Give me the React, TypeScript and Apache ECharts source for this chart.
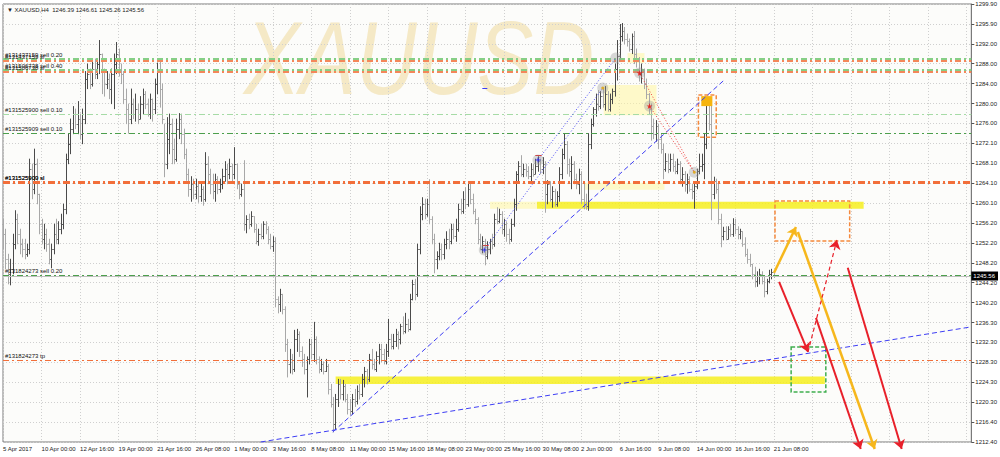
import React, { useEffect, useRef } from "react";
import * as echarts from "echarts";

// ---- tick labels ----
const xTickLabels = ["5 Apr 2017", "10 Apr 00:00", "12 Apr 16:00", "19 Apr 00:00", "21 Apr 16:00", "26 Apr 08:00", "1 May 00:00", "3 May 16:00", "8 May 08:00", "11 May 00:00", "15 May 16:00", "18 May 08:00", "23 May 00:00", "25 May 16:00", "30 May 08:00", "2 Jun 00:00", "6 Jun 16:00", "9 Jun 08:00", "14 Jun 00:00", "16 Jun 16:00", "21 Jun 08:00"];
const yTickLabels = ["1212.40", "1216.40", "1220.30", "1224.30", "1228.30", "1232.30", "1236.30", "1240.20", "1244.20", "1248.20", "1252.20", "1256.20", "1260.10", "1264.10", "1268.10", "1272.10", "1276.00", "1280.00", "1284.00", "1288.00", "1292.00", "1295.90", "1299.90"];

// ---- H4 bars (index 0 .. 320) ----
const firstOpen = 1256;
const closes = [
  1254, 1249, 1246, 1247, 1252, 1257, 1254, 1252, 1251, 1250,
  1251, 1267, 1263, 1268, 1262, 1256, 1253, 1254, 1252, 1249,
  1251, 1254, 1253, 1255, 1256, 1259, 1269, 1272, 1275, 1278,
  1276, 1277, 1274, 1277, 1285, 1286, 1284, 1287, 1286, 1288,
  1290, 1287, 1284, 1285, 1283, 1286, 1288, 1290, 1287, 1286,
  1281, 1279, 1277, 1280, 1278, 1279, 1277, 1280, 1282, 1280,
  1278, 1281, 1279, 1284, 1287, 1283, 1277, 1268, 1273, 1276,
  1271, 1269, 1275, 1277, 1274, 1270, 1266, 1263, 1264, 1262,
  1263.5, 1261.5, 1263, 1261, 1268, 1266, 1264, 1262.5, 1265, 1263,
  1264, 1265.5, 1267, 1266, 1267.5, 1266, 1268, 1264, 1262, 1263,
  1256, 1257, 1256, 1257.5, 1255, 1252.5, 1254, 1253.5, 1256, 1255,
  1253, 1251.5, 1252.5, 1241, 1240, 1242, 1239, 1232, 1228, 1229,
  1227, 1233, 1234, 1230.5, 1229, 1227, 1229, 1232, 1230, 1233,
  1229, 1227, 1228, 1226.5, 1227.5, 1223, 1220, 1216, 1221, 1224,
  1222, 1223.5, 1221, 1219, 1218.5, 1221, 1220.5, 1222.5, 1222, 1225,
  1226.5, 1225, 1229, 1228, 1227, 1229.5, 1231, 1230, 1228.5, 1230.5,
  1233, 1231.5, 1232.5, 1234, 1233, 1235.5, 1234.5, 1236, 1235, 1241,
  1244, 1242, 1251, 1258, 1260, 1258, 1260, 1257, 1253, 1249,
  1249.5, 1251, 1250, 1252, 1253, 1252.5, 1255, 1253.5, 1255, 1259,
  1258.5, 1261, 1260, 1263, 1261, 1258.5, 1257, 1253, 1251, 1252.5,
  1249.5, 1251, 1252.5, 1252, 1257, 1256.5, 1258, 1255, 1256, 1254,
  1253, 1256, 1260, 1266, 1267.5, 1266, 1267, 1266.5, 1265.5, 1267,
  1266, 1267.5, 1268.5, 1267, 1268, 1262, 1264, 1261, 1262.5, 1260,
  1261.5, 1266, 1270, 1272, 1268, 1266.5, 1268, 1265, 1264, 1266,
  1261, 1260, 1259.5, 1272, 1276, 1279, 1280, 1279.5, 1281.5, 1280,
  1282, 1279, 1281, 1282.5, 1287, 1289.5, 1293.5, 1294.5, 1293, 1292.5,
  1291, 1293.5, 1290, 1288.5, 1286, 1287, 1284, 1282, 1279, 1275.5,
  1274, 1275.5, 1273, 1271, 1267, 1268.5, 1267, 1269, 1267.5, 1266.5,
  1268, 1265, 1266, 1264, 1265, 1263, 1262.5, 1263.5, 1266.5, 1267.5,
  1268, 1272, 1280.5, 1276, 1262, 1264.5, 1263, 1257, 1253.5, 1254.5,
  1253, 1255, 1254, 1256, 1255, 1254, 1254.5, 1252, 1250, 1249,
  1248, 1246, 1244.5, 1245.5, 1246, 1244.5, 1242.5, 1244.5, 1246, 1246.39,
  1245.56
];
const highs = [
  1257, 1255, 1250, 1249, 1254, 1258.7, 1258, 1255, 1253, 1253,
  1252, 1269, 1268, 1271, 1269, 1262, 1257, 1256, 1255, 1253,
  1252, 1256, 1257, 1256.5, 1258, 1260, 1270, 1274, 1277, 1279.5,
  1279, 1280.5, 1278, 1279, 1286.5, 1288, 1287, 1288.5, 1289, 1289,
  1292.7, 1290, 1287, 1286.5, 1286, 1287, 1290, 1292.3, 1291, 1288,
  1286.5, 1283, 1280, 1283, 1281, 1282, 1280, 1281.5, 1283, 1282.5,
  1281, 1282, 1281, 1285, 1288.2, 1288.5, 1284, 1276, 1277.3, 1278,
  1277, 1273, 1277, 1278.1, 1278, 1275, 1271, 1267, 1265.5, 1265,
  1265, 1264.5, 1264, 1263.5, 1270.3, 1269.5, 1267, 1266, 1266, 1265.5,
  1265, 1267, 1268.5, 1268, 1269, 1268, 1271.3, 1268, 1264.5, 1264,
  1268.7, 1257.7, 1258, 1258.5, 1257.5, 1256, 1255, 1256, 1256.5, 1256.5,
  1255.5, 1254, 1253.5, 1253.3, 1241.5, 1243, 1242, 1239.5, 1233, 1231,
  1230, 1234.8, 1235, 1234.5, 1231.5, 1230, 1229.5, 1233, 1233, 1236.4,
  1233.5, 1229.5, 1229, 1228.5, 1229, 1228, 1224, 1221.4, 1222, 1225,
  1225, 1224.8, 1224, 1222, 1221, 1222, 1223, 1223.7, 1224, 1226,
  1227.4, 1227, 1230, 1231, 1229, 1230.5, 1232, 1232, 1231, 1232,
  1237, 1234, 1234, 1235, 1234.5, 1236, 1237.5, 1238.2, 1237, 1242,
  1244.8, 1245, 1252, 1259.5, 1261.3, 1261, 1261, 1264.9, 1257.5, 1254,
  1250.5, 1252.2, 1252, 1253, 1254.5, 1255, 1256, 1256, 1257, 1260,
  1261, 1262.5, 1263.3, 1264, 1264.1, 1262, 1259, 1257.3, 1254, 1253.5,
  1253, 1252.5, 1253, 1254, 1258, 1259.3, 1259, 1258.5, 1257, 1256.5,
  1255, 1257, 1261, 1266.5, 1268.5, 1269.7, 1268, 1268, 1267.5, 1268.1,
  1268, 1269, 1269.5, 1269, 1269.3, 1268.5, 1264.7, 1264.5, 1263.5, 1263,
  1262.5, 1267.3, 1271, 1274.1, 1272.5, 1269, 1269.5, 1268.5, 1266, 1267,
  1266.5, 1264, 1262, 1274.1, 1277, 1279.3, 1282, 1282.7, 1282.5, 1283,
  1283.5, 1282.5, 1282, 1283, 1288, 1292.7, 1295.9, 1296.1, 1295.3, 1294,
  1293, 1294, 1294.5, 1291, 1289.3, 1288, 1287, 1285, 1282.1, 1280,
  1277, 1276.7, 1276, 1274, 1272, 1270.1, 1270, 1270, 1270, 1268.5,
  1269, 1268.5, 1267.3, 1266.5, 1266, 1265.5, 1264, 1264.5, 1267, 1270,
  1270, 1274, 1281.3, 1280.8, 1280.7, 1265.4, 1265, 1264, 1258, 1255.4,
  1255.5, 1255.5, 1256, 1257.1, 1257, 1255.5, 1255, 1254.5, 1253.3, 1251,
  1250, 1248, 1247.4, 1246.5, 1247, 1246.5, 1245.5, 1245, 1246.8, 1247,
  1246.61
];
const lows = [
  1251, 1247, 1244, 1243.8, 1246, 1251, 1252, 1250, 1249.4, 1249,
  1249.5, 1250, 1261, 1262, 1260, 1254, 1252, 1251, 1250.5, 1248,
  1247.2, 1250, 1252, 1252, 1254, 1255, 1258, 1268, 1270, 1274,
  1275, 1274, 1273, 1272, 1276, 1283, 1283, 1283.5, 1285, 1285,
  1286, 1282, 1281.5, 1283, 1281, 1280, 1279, 1286, 1285.5, 1284,
  1280, 1276, 1274.1, 1276, 1277, 1276.5, 1276, 1277, 1278, 1279,
  1277.5, 1277, 1276.5, 1278, 1282, 1279.3, 1276, 1265.4, 1267, 1270,
  1268, 1268, 1268.5, 1273, 1272, 1269, 1264.7, 1261.5, 1260.5, 1261,
  1261, 1260.3, 1260.5, 1259.7, 1260.5, 1264, 1262, 1261, 1260.5, 1262,
  1262.3, 1263, 1264.5, 1264, 1265, 1264.5, 1265, 1263, 1261, 1261.5,
  1254.7, 1254.2, 1255, 1255.5, 1254.3, 1252, 1251.7, 1253, 1253, 1254,
  1252, 1251, 1250.5, 1239.4, 1238.2, 1238.5, 1238, 1230.5, 1225.4, 1226.2,
  1226, 1226.5, 1230.5, 1229.5, 1227.5, 1226, 1221.4, 1228, 1229, 1228.5,
  1228, 1226.2, 1226.5, 1226, 1226.5, 1222, 1219.4, 1214.4, 1215, 1219.5,
  1221, 1220.8, 1220.5, 1218, 1217.8, 1218, 1219.5, 1220, 1221, 1221.5,
  1223.4, 1224, 1224.5, 1227, 1226.8, 1226.5, 1228, 1228.5, 1228, 1228,
  1229.5, 1231, 1231, 1231.5, 1231, 1232, 1234, 1234.2, 1234.5, 1234.8,
  1240.8, 1240.8, 1241.5, 1250, 1256.8, 1257, 1257.5, 1256, 1252, 1246.2,
  1247, 1248.8, 1248.8, 1249, 1251, 1251, 1252, 1253, 1252.5, 1254.5,
  1258, 1258.1, 1259, 1259.5, 1260, 1258, 1256, 1252, 1250.8, 1250.2,
  1247.8, 1249, 1250, 1251, 1251.5, 1256, 1256.2, 1254, 1253.5, 1252.5,
  1252, 1252.5, 1255.5, 1258.7, 1264.6, 1265.5, 1265.4, 1265.5, 1265, 1264.5,
  1265.5, 1266, 1266.5, 1266, 1266, 1258.3, 1260, 1260.5, 1259.3, 1259.5,
  1259.5, 1260.5, 1265, 1269, 1266, 1265.5, 1263, 1264, 1263, 1262,
  1260, 1259, 1258.9, 1258.7, 1271, 1275.5, 1277.5, 1278.7, 1279, 1279.3,
  1278.7, 1278.5, 1278.5, 1280, 1281.5, 1284.7, 1289, 1292.5, 1292, 1291.5,
  1290.5, 1290, 1288, 1287.3, 1284.5, 1284.1, 1283, 1281, 1278, 1272.7,
  1273, 1272.5, 1271, 1270.1, 1265, 1266.5, 1266.2, 1266.5, 1266.5, 1266,
  1266, 1264, 1263.5, 1262.5, 1262.1, 1262.5, 1261, 1259.1, 1263, 1266,
  1266.5, 1265, 1271, 1274.7, 1256.8, 1261, 1262.1, 1256, 1251.4, 1252.8,
  1252.8, 1253, 1253.5, 1253.5, 1254, 1253, 1253, 1251.5, 1249.5, 1248.1,
  1247.5, 1245, 1243.4, 1243.5, 1244, 1244, 1241.4, 1242, 1244.2, 1245,
  1245.26
];

// ---- order lines (price, label, style kind) ----
const orderPrices = [1289.0, 1288.5, 1286.7, 1286.3, 1277.9, 1274.1, 1264.3, 1264.3, 1245.7, 1228.7];
const orderLabels = ["#131437159 sell 0.20", "#131437159 sl", "#131506738 sell 0.40", "#131506738 sl", "#131525900 sell 0.10", "#131525909 sell 0.10", "#131525900 sl", "#131525909 sl", "#131824273 sell 0.20", "#131824273 tp"];
const orderKinds = ["green", "orange", "green", "orange", "lightgreen", "darkgreen", "orangeThick", "orangeThick", "darkgreen", "orangeThin"];
const bidPrice = 1245.56;

// ---- drawn objects, in (bar index, price) ----
const trendLines = [
  [[107, 1212.4], [402, 1235.4]],
  [[136.9, 1214.4], [299.4, 1284.7]],
  [[199, 1283.1], [201.4, 1283.1]],
];
const blueDotted = [
  [[199.8, 1250.75], [249, 1283.1]],
  [[222.1, 1268.75], [254.4, 1289.1]],
];
const redDotted = [
  [[264.3, 1286.1], [287, 1266.3]],
  [[268.4, 1279.5], [287, 1266.3]],
];
const redTicks = [
  [[199.2, 1251.8], [201.6, 1251.8]],
  [[221, 1269.6], [223.6, 1269.6]],
];
const goldArrows = [
  [[320.1, 1246.2], [329.2, 1255.35]],
  [[330, 1254.35], [361.9, 1211.0]],
];
const redArrows = [
  [[322.2, 1244.4], [334.2, 1230.4]],
  [[337.5, 1237.2], [356.1, 1211.0]],
  [[350.7, 1247.2], [373.1, 1211.0]],
];
const redDashedArrows = [[[334.2, 1230.4], [346.2, 1252.75]]];

const yellowBands = [
  [138.1, 1225.5, 341.2, 1224.0],
  [221.7, 1260.4, 357.3, 1259.0],
];
const paleBands = [
  [202.2, 1260.4, 221.7, 1259.0],
  [241.5, 1264.2, 274.6, 1262.8],
  [249.4, 1283.7, 271.3, 1277.7],
  [259.3, 1290.1, 266.3, 1288.1],
];
const orangeBoxes = [
  [320.5, 1260.55, 351.5, 1252.55],
  [288.7, 1281.7, 296.1, 1273.3],
];
const greenBoxes = [[327.2, 1231.4, 341.6, 1222.4]];
const goldSquares = [[289.9, 1281.5, 294.5, 1279.5]];

const circleMarks = [[199.8, 1250.75], [222.1, 1268.75], [249, 1283.1], [254.4, 1289.1], [264.3, 1286.1], [268.4, 1279.5], [287, 1266.3]];
const blueCrosses = [[199.8, 1250.75], [222.1, 1268.75]];
const redStars = [[264.3, 1286.1], [268.4, 1279.5]];
const orangeDots = [[249, 1283.1], [287, 1266.3]];

const header = "XAUUSD,H4  1246.39 1246.61 1245.26 1245.56";

const FONT = "Liberation Sans";
const kindStyle: Record<string, any> = {
  green: { color: "#86cf86", width: 2, type: [6, 3, 2, 3] },
  orange: { color: "#f4875a", width: 2, type: [6, 3, 2, 3] },
  lightgreen: { color: "#a6dba6", width: 1.2, type: [6, 3, 2, 3] },
  darkgreen: { color: "#4c9f4c", width: 1, type: [6, 3, 2, 3] },
  orangeThick: { color: "#f26f3a", width: 3, type: [7, 3, 2, 3] },
  orangeThin: { color: "#f26f3a", width: 1, type: [6, 3, 2, 3] },
};

function rectSeries(name: string, data: number[][], style: any) {
  return {
    type: "custom",
    name,
    xAxisIndex: 0,
    yAxisIndex: 0,
    silent: true,
    clip: false,
    z: style.z ?? 3,
    data,
    renderItem: (_p: any, api: any) => {
      const a = api.coord([api.value(0), api.value(1)]);
      const b = api.coord([api.value(2), api.value(3)]);
      return {
        type: "rect",
        shape: { x: a[0], y: a[1], width: b[0] - a[0], height: b[1] - a[1] },
        style: style.style,
      };
    },
  };
}

function linesSeries(data: number[][][], color: string, width: number, type: any, arrow: boolean, z = 6) {
  return {
    type: "lines",
    coordinateSystem: "cartesian2d",
    xAxisIndex: 0,
    yAxisIndex: 0,
    silent: true,
    clip: false,
    z,
    symbol: arrow ? ["none", "arrow"] : ["none", "none"],
    symbolSize: 9,
    lineStyle: { color, width, type, opacity: 1 },
    data: data.map((c) => ({ coords: c })),
  };
}

export default function App() {
  const ref = useRef<HTMLDivElement>(null);
  useEffect(() => {
    if (!ref.current) return;
    const chart = echarts.init(ref.current, null, { renderer: "svg" });
    const bars = closes.map((c, i) => [i, i === 0 ? firstOpen : closes[i - 1], highs[i], lows[i], c]);

    const markData: any[] = orderPrices.map((p, i) => {
      const s = kindStyle[orderKinds[i]];
      return {
        yAxis: p,
        lineStyle: { color: s.color, width: s.width, type: s.type },
        label: {
          show: true,
          position: "insideStartTop",
          formatter: orderLabels[i],
          color: "#111",
          fontSize: 6,
          fontFamily: FONT,
          distance: [2, 1],
        },
      };
    });
    markData.unshift({
      yAxis: bidPrice,
      lineStyle: { color: "#c0c0c0", width: 1, type: "solid" },
      label: {
        show: true,
        position: "end",
        formatter: bidPrice.toFixed(2),
        color: "#fff",
        backgroundColor: "#000",
        padding: [2, 3, 1, 2],
        fontSize: 6,
        fontFamily: FONT,
        distance: 0,
      },
    });

    const option: any = {
      animation: false,
      backgroundColor: "#ffffff",
      grid: { left: 1, right: 27, top: 4, bottom: 15, show: true, borderColor: "#7a7a7a", borderWidth: 1, backgroundColor: "#fcfcfa" },
      title: {
        text: "▼ " + header,
        left: 2,
        top: 2,
        textStyle: { fontSize: 6, fontWeight: "normal", color: "#222", fontFamily: FONT },
      },
      graphic: [
        {
          type: "text",
          x: 244,
          y: 6,
          scaleY: 1.24,
          z: 0,
          silent: true,
          style: {
            text: "XAUUSD",
            fill: "rgba(238, 216, 155, 0.55)",
            font: 'italic 84px "Liberation Sans"',
          },
        },
      ],
      xAxis: {
        type: "value",
        min: 0,
        max: 402,
        interval: 16,
        axisLine: { show: false },
        axisTick: { show: false },
        splitLine: { show: true, lineStyle: { color: "#cfcfcf", type: [1, 2], width: 1 } },
        axisLabel: {
          show: true,
          fontSize: 6,
          fontFamily: FONT,
          color: "#222",
          align: "left",
          margin: 4,
          showMaxLabel: false,
          hideOverlap: false,
          formatter: (v: number) => {
            const k = v / 16;
            return Number.isInteger(k) && xTickLabels[k] ? xTickLabels[k] : "";
          },
        },
      },
      yAxis: [
        { type: "value", min: 1212.4, max: 1299.9, show: false, position: "right", scale: true, splitLine: { show: false } },
        {
          type: "value",
          min: 0,
          max: 22,
          interval: 1,
          position: "right",
          axisLine: { show: true, lineStyle: { color: "#7a7a7a" } },
          axisTick: { show: true, length: 3, lineStyle: { color: "#555" } },
          splitLine: { show: true, lineStyle: { color: "#cfcfcf", type: [1, 2], width: 1 } },
          axisLabel: {
            fontSize: 6,
            fontFamily: FONT,
            color: "#222",
            margin: 4,
            formatter: (v: number) => yTickLabels[Math.round(v)] ?? "",
          },
        },
      ],
      series: [
        rectSeries("pale", paleBands, { z: 1, style: { fill: "rgba(255, 246, 160, 0.55)" } }),
        rectSeries("yellow", yellowBands, { z: 1, style: { fill: "rgba(246, 238, 30, 0.85)" } }),
        {
          type: "custom",
          name: "bars",
          xAxisIndex: 0,
          yAxisIndex: 0,
          silent: true,
          z: 4,
          data: bars,
          renderItem: (_p: any, api: any) => {
            const x = api.value(0);
            const o = api.value(1);
            const h = api.value(2);
            const l = api.value(3);
            const c = api.value(4);
            const ph = api.coord([x, h]);
            const pl = api.coord([x, l]);
            const po = api.coord([x, o]);
            const pc = api.coord([x, c]);
            const px = Math.round(ph[0]) + 0.5;
            const col = c >= o ? "#4a4a4a" : "#a8a8a8";
            const st = { stroke: col, lineWidth: 1 };
            return {
              type: "group",
              children: [
                { type: "line", shape: { x1: px, y1: ph[1], x2: px, y2: pl[1] + 0.5 }, style: st },
                { type: "line", shape: { x1: px - 1.2, y1: Math.round(po[1]) + 0.5, x2: px, y2: Math.round(po[1]) + 0.5 }, style: st },
                { type: "line", shape: { x1: px, y1: Math.round(pc[1]) + 0.5, x2: px + 1.2, y2: Math.round(pc[1]) + 0.5 }, style: st },
              ],
            };
          },
          markLine: { silent: true, symbol: ["none", "none"], data: markData },
        },
        rectSeries("gold", goldSquares, { z: 5, style: { fill: "#f6b40e" } }),
        rectSeries("orangeBox", orangeBoxes, { z: 5, style: { fill: "none", stroke: "#f5893c", lineWidth: 1.5, lineDash: [4, 2] } }),
        rectSeries("greenBox", greenBoxes, { z: 5, style: { fill: "none", stroke: "#3fae4f", lineWidth: 1.5, lineDash: [4, 2] } }),
        linesSeries(trendLines, "#3d3df5", 1, [5, 3], false, 5),
        linesSeries(blueDotted, "#4848f5", 1, [1, 2], false, 5),
        linesSeries(redDotted, "#f04040", 1, [1, 2], false, 5),
        linesSeries(redTicks, "#e52020", 1, "solid", false, 6),
        {
          type: "scatter",
          xAxisIndex: 0,
          yAxisIndex: 0,
          silent: true,
          z: 6,
          symbol: "circle",
          symbolSize: 11,
          itemStyle: { color: "rgba(150,150,150,0.45)" },
          data: circleMarks,
        },
        {
          type: "scatter",
          xAxisIndex: 0,
          yAxisIndex: 0,
          silent: true,
          z: 7,
          symbol: "path://M4,0H6V4H10V6H6V10H4V6H0V4H4Z",
          symbolSize: 5,
          itemStyle: { color: "#1010f0" },
          data: blueCrosses,
        },
        {
          type: "scatter",
          xAxisIndex: 0,
          yAxisIndex: 0,
          silent: true,
          z: 7,
          symbol: "path://M5,0L6.2,3.8L10,3.8L7,6.2L8.1,10L5,7.7L1.9,10L3,6.2L0,3.8L3.8,3.8Z",
          symbolSize: 6,
          itemStyle: { color: "#e81010" },
          data: redStars,
        },
        {
          type: "scatter",
          xAxisIndex: 0,
          yAxisIndex: 0,
          silent: true,
          z: 7,
          symbol: "circle",
          symbolSize: 3,
          itemStyle: { color: "#e0a000" },
          data: orangeDots,
        },
        linesSeries(goldArrows, "#f6b71c", 2.5, "solid", true, 8),
        linesSeries(redArrows, "#e8202a", 2, "solid", true, 8),
        linesSeries(redDashedArrows, "#e8202a", 1.2, [4, 3], true, 8),
      ],
    };
    chart.setOption(option);
    return () => chart.dispose();
  }, []);
  return <div ref={ref} style={{ position: "fixed", left: 0, top: 0, width: 1000, height: 457 }} />;
}
